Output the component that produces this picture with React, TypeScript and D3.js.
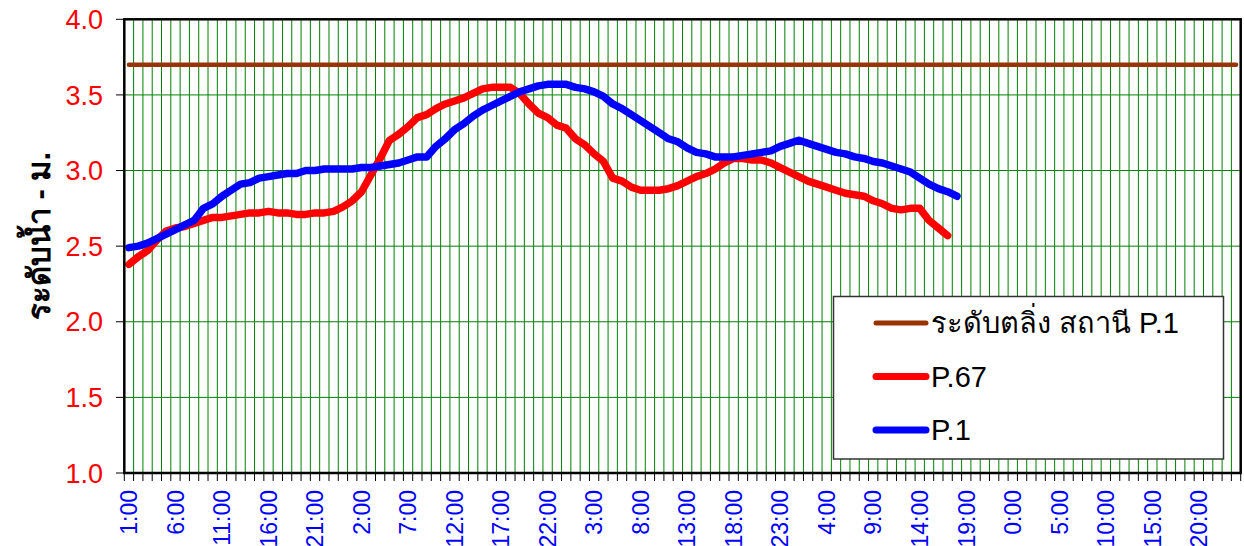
import * as d3 from 'd3';

// hourly readings, first category is 1:00
const hourCount = 120;
const tickLabels = [
  '1:00', '6:00', '11:00', '16:00', '21:00', '2:00', '7:00', '12:00',
  '17:00', '22:00', '3:00', '8:00', '13:00', '18:00', '23:00', '4:00',
  '9:00', '14:00', '19:00', '0:00', '5:00', '10:00', '15:00', '20:00',
];
const yTicks = [1.0, 1.5, 2.0, 2.5, 3.0, 3.5, 4.0];

const bankLevel = 3.7;

const p67 = [
  2.38, 2.43, 2.47, 2.54, 2.60, 2.62, 2.63, 2.65, 2.67, 2.69,
  2.69, 2.70, 2.71, 2.72, 2.72, 2.73, 2.72, 2.72, 2.71, 2.71,
  2.72, 2.72, 2.73, 2.76, 2.80, 2.86, 2.97, 3.08, 3.20, 3.24,
  3.29, 3.35, 3.37, 3.41, 3.44, 3.46, 3.48, 3.51, 3.54, 3.55,
  3.55, 3.55, 3.51, 3.44, 3.38, 3.35, 3.30, 3.28, 3.21, 3.17,
  3.11, 3.06, 2.95, 2.93, 2.89, 2.87, 2.87, 2.87, 2.88, 2.90,
  2.93, 2.96, 2.98, 3.01, 3.05, 3.08, 3.08, 3.07, 3.07, 3.05,
  3.02, 2.99, 2.96, 2.93, 2.91, 2.89, 2.87, 2.85, 2.84, 2.83,
  2.80, 2.78, 2.75, 2.74, 2.75, 2.75, 2.67, 2.62, 2.57,
];

const p1 = [
  2.49, 2.50, 2.52, 2.55, 2.58, 2.61, 2.64, 2.67, 2.75, 2.78,
  2.83, 2.87, 2.91, 2.92, 2.95, 2.96, 2.97, 2.98, 2.98, 3.00,
  3.00, 3.01, 3.01, 3.01, 3.01, 3.02, 3.02, 3.03, 3.04, 3.05,
  3.07, 3.09, 3.09, 3.16, 3.21, 3.27, 3.31, 3.36, 3.40, 3.43,
  3.46, 3.49, 3.52, 3.54, 3.56, 3.57, 3.57, 3.57, 3.55, 3.54,
  3.52, 3.49, 3.44, 3.41, 3.37, 3.33, 3.29, 3.25, 3.21, 3.19,
  3.15, 3.12, 3.11, 3.09, 3.09, 3.09, 3.10, 3.11, 3.12, 3.13,
  3.16, 3.18, 3.20, 3.18, 3.16, 3.14, 3.12, 3.11, 3.09, 3.08,
  3.06, 3.05, 3.03, 3.01, 2.99, 2.95, 2.91, 2.88, 2.86, 2.83,
];

const legendItems = [
  { label: 'ระดับตลิ่ง สถานี P.1', color: '#993300', width: 5 },
  { label: 'P.67', color: '#ff0000', width: 7 },
  { label: 'P.1', color: '#0000ff', width: 7 },
];

const W = 1244;
const H = 546;
const plot = { left: 124.3, right: 1240.7, top: 19.3, bottom: 473 };
const font = '"Liberation Sans", Arial, sans-serif';

export default function App() {
  const x = d3.scaleBand<number>()
    .domain(d3.range(hourCount))
    .range([plot.left, plot.right]);
  const bw = x.bandwidth();
  const cx = (i: number) => (x(i) as number) + bw / 2;

  const y = d3.scaleLinear().domain([1, 4]).range([plot.bottom, plot.top]);

  const line = d3.line<number>()
    .x((_, i) => cx(i))
    .y(d => y(d));

  const boundaries = d3.range(hourCount + 1).map(i => plot.left + i * bw);

  return (
    <svg width={W} height={H} style={{ position: 'absolute', left: 0, top: 0, background: '#fff' }}>
      {/* vertical grid */}
      {boundaries.slice(1, -1).map((bx, i) => (
        <line key={'vg' + i} x1={bx} x2={bx} y1={plot.top} y2={plot.bottom} stroke="#008000" strokeWidth={1} />
      ))}
      {/* horizontal grid */}
      {yTicks.slice(1, -1).map(t => (
        <line key={'hg' + t} x1={plot.left} x2={plot.right} y1={y(t)} y2={y(t)} stroke="#008000" strokeWidth={1} />
      ))}

      {/* series */}
      <line x1={cx(0)} x2={cx(hourCount - 1)} y1={y(bankLevel)} y2={y(bankLevel)}
        stroke="#993300" strokeWidth={4.5} strokeLinecap="round" />
      <path d={line(p67) ?? ''} fill="none" stroke="#ff0000" strokeWidth={7.5}
        strokeLinejoin="round" strokeLinecap="round" />
      <path d={line(p1) ?? ''} fill="none" stroke="#0000ff" strokeWidth={7.5}
        strokeLinejoin="round" strokeLinecap="round" />

      {/* frame */}
      <rect x={plot.left} y={plot.top} width={plot.right - plot.left} height={plot.bottom - plot.top}
        fill="none" stroke="#000" strokeWidth={2.5} />

      {/* y axis */}
      {yTicks.map(t => (
        <g key={'yt' + t}>
          <line x1={116} x2={plot.left} y1={y(t)} y2={y(t)} stroke="#000" strokeWidth={1} />
          <text x={103} y={y(t)} dy="0.36em" textAnchor="end" fill="#ff0000"
            fontSize={27} fontFamily={font}>{t.toFixed(1)}</text>
        </g>
      ))}
      <text transform={`translate(50,236) rotate(-90)`} textAnchor="middle" fontSize={31}
        fontWeight="bold" fontFamily={font} fill="#000">ระดับน้ำ - ม.</text>

      {/* x axis */}
      {boundaries.map((bx, i) => (
        <line key={'xt' + i} x1={bx} x2={bx} y1={plot.bottom} y2={plot.bottom + 8} stroke="#000" strokeWidth={1} />
      ))}
      {tickLabels.map((lab, k) => (
        <text key={'xl' + k} transform={`translate(${cx(k * 5)},490) rotate(-90)`} textAnchor="end"
          dy="0.36em" fontSize={23} fontFamily={font} fill="#0000ff">{lab}</text>
      ))}

      {/* legend */}
      <rect x={833.5} y={296.5} width={390} height={162.5} fill="#fff" stroke="#333" strokeWidth={1.5} />
      {legendItems.map((it, i) => {
        const ly = 323 + i * 53.5;
        return (
          <g key={'lg' + i}>
            <line x1={876} x2={926} y1={ly} y2={ly} stroke={it.color} strokeWidth={it.width} strokeLinecap="round" />
            <text x={931} y={ly} dy="0.36em" fontSize={29} fontFamily={font} fill="#000">{it.label}</text>
          </g>
        );
      })}
    </svg>
  );
}
